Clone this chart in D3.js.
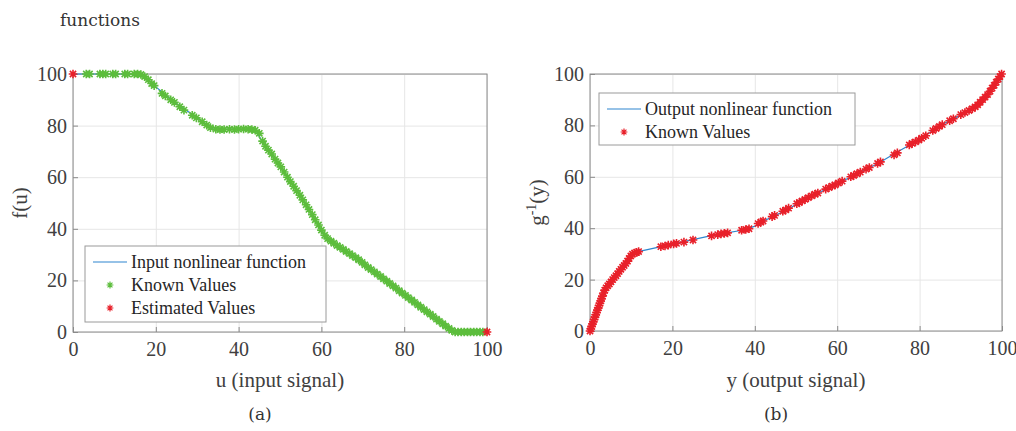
<!DOCTYPE html>
<html>
<head>
<meta charset="utf-8">
<script src="https://cdn.jsdelivr.net/npm/d3@7"></script>
<style>
  body { margin: 0; background: #fff; }
  svg { display: block; }
</style>
</head>
<body>
<script>
// axis ticks
var ticks = [0, 20, 40, 60, 80, 100]

// (a) input nonlinear function, knots of the line
var inLineU = [0, 15, 17, 20, 25, 30, 34, 44, 46, 50, 55, 61, 65, 70, 75, 80, 85, 90, 92, 100]
var inLineF = [100, 100, 99, 95, 88.5, 83, 78.5, 78.6, 73, 64, 53, 36.5, 32, 26.5, 20.5, 14.5, 8, 2, 0, 0]

// (a) known values
var knownU = [3.2, 4.0, 6.5, 7.2, 7.9, 9.6, 10.3, 12.5, 13.2, 14.8, 15.6, 16.4,
  17.3, 18.2, 19.0, 19.6, 21.5, 22.3, 23.6, 24.5, 25.8, 26.8, 28.8, 29.8, 31.2, 32.3, 33.2,
  34.5, 35.5, 36.5, 37.8, 39.0, 40.0, 41.2, 42.3, 43.2, 44.0,
  45.0, 45.8, 46.5, 47.2, 48.0, 48.8, 49.5, 50.2, 51.0, 51.8, 52.5, 53.3, 54.0, 54.8, 55.5,
  56.3, 57.0, 57.8, 58.5, 59.3, 60.0, 60.8, 61.5, 62.3, 63.0, 63.8, 64.5, 65.3, 66.0, 66.8,
  67.5, 68.3, 69.0, 69.8, 70.5, 71.3, 72.0, 72.8, 73.5, 74.3, 75.0, 75.8, 76.5, 77.3, 78.0,
  78.8, 79.5, 80.3, 81.0, 81.8, 82.5, 83.3, 84.0, 84.8, 85.5, 86.3, 87.0, 87.8, 88.5, 89.3,
  90.0, 90.8, 91.5, 92.3, 93.0, 93.8, 94.5, 95.3, 96.0, 96.8, 97.5, 98.3, 99.0]
var knownF = [100, 100, 100, 100, 100, 100, 100, 100, 100, 100, 100, 99.8,
  99, 97.8, 96.3, 95.5, 92.5, 91.5, 90, 89, 87.3, 86, 84, 83, 81.5, 80.2, 79.2,
  78.6, 78.5, 78.5, 78.6, 78.5, 78.6, 78.7, 78.6, 78.5, 78.2,
  77, 74, 72, 70.5, 69, 67, 65.5, 64, 62, 60, 58.3, 56.5, 54.8, 53, 51.2,
  49.3, 47.5, 45.5, 43.5, 41.5, 39.5, 37.5, 36.2, 35.2, 34.4, 33.5, 32.8, 32, 31.2, 30.4,
  29.6, 28.8, 28, 27, 26, 25, 24.2, 23.3, 22.4, 21.5, 20.6, 19.7, 18.8, 17.9, 17,
  16, 15.1, 14.2, 13.3, 12.4, 11.5, 10.5, 9.6, 8.7, 7.8, 6.9, 6, 5, 4.1, 3.2,
  2.3, 1.4, 0.6, 0, 0, 0, 0, 0, 0, 0, 0, 0, 0]

// (a) estimated values
var estU = [0, 100]
var estF = [100, 0]

// (b) output nonlinear function, knots of the line
var outLineY = [0, 1, 2, 3, 4, 5, 6, 7, 8, 9, 10, 12, 20, 30, 38, 40, 42, 45, 48, 51, 55, 60, 65, 70, 75, 80, 85, 90, 94, 96, 98, 100]
var outLineG = [0, 4.5, 9, 13.5, 17, 19, 21, 23, 25, 27, 29.5, 31, 33.8, 37.3, 39.5, 40.8, 42.7, 45, 47.3, 50.3, 53.4, 57.3, 61.3, 65.3, 70, 74.5, 80, 84, 87.5, 90.5, 95, 100]

// (b) known values
var knownY = [0, 0.2, 0.4, 0.6, 0.8, 1.0, 1.2, 1.4, 1.6, 1.8, 2.0, 2.2, 2.4, 2.6, 2.8, 3.0, 3.3, 3.6, 3.9,
  4.3, 4.7, 5.1, 5.5, 5.9, 6.3, 6.7, 7.1, 7.5, 7.9, 8.3, 8.7, 9.1, 9.5, 9.9, 10.3, 10.8, 11.3, 11.8,
  17.2, 18.2, 19.0, 20.3, 21.0, 22.8, 25.0,
  29.5, 31.0, 31.8, 32.6, 33.4, 36.8, 37.8, 38.6, 40.8, 41.5, 42.0, 44.2, 44.8, 46.8, 47.5, 48.2,
  50.2, 50.8, 51.5, 52.2, 53.0, 53.8, 54.6, 55.3, 57.2, 58.0, 58.8, 59.5, 60.3, 61.2,
  63.3, 64.0, 64.8, 65.6, 67.0, 67.8, 69.8, 70.5, 73.8, 74.6,
  77.5, 78.2, 79.0, 79.8, 80.5, 81.5, 83.2, 84.0, 84.8, 85.5, 87.3, 88.2,
  90.0, 91.0, 92.0, 92.8, 93.5, 94.1, 94.7, 95.3, 95.9, 96.5, 97.1, 97.6, 98.1, 98.6, 99.1, 99.5, 99.9]
var knownG = [0, 0.8, 1.8, 2.7, 3.6, 4.5, 5.4, 6.3, 7.2, 8.1, 9, 9.9, 10.8, 11.7, 12.6, 13.5, 14.8, 15.9, 16.8,
  17.6, 18.3, 19.1, 20, 20.8, 21.5, 22.3, 23.2, 24, 24.8, 25.5, 26.3, 27.2, 28.2, 29.2, 29.9, 30.3, 30.6, 30.9,
  32.8, 33.1, 33.4, 33.9, 34.1, 34.6, 35.4,
  37, 37.5, 37.8, 38, 38.2, 39.2, 39.5, 39.8, 41.8, 42.4, 42.8, 44.5, 45, 46.6, 47.1, 47.8,
  49.5, 50, 50.6, 51.2, 51.9, 52.6, 53.2, 53.7, 55.2, 55.8, 56.4, 56.8, 57.6, 58.3,
  60, 60.5, 61.2, 61.8, 63, 63.6, 65.2, 65.8, 68.5, 69.3,
  72.4, 73, 73.6, 74.3, 75, 76, 78, 78.8, 79.6, 80.3, 81.8, 82.6,
  84.2, 85, 85.8, 86.5, 87.2, 88, 89, 90, 91, 92, 93.3, 94.5, 95.6, 96.8, 98, 99, 100]

var blue = '#2e86cf'
var green = '#5cbd3c'
var red = '#e8202a'
var serif = '"Liberation Serif", "Times New Roman", serif'

var svg = d3.select('body').append('svg')
  .attr('width', 1016)
  .attr('height', 431)

// caption fragment at the top
svg.append('text')
  .attr('x', 60).attr('y', 26)
  .style('font-family', '"DejaVu Serif", Georgia, serif')
  .style('font-size', '17px')
  .style('fill', '#333')
  .text('functions')

function star(r) {
  var d = r * 0.72
  return `M${-r},0L${r},0M0,${-r}L0,${r}M${-d},${-d}L${d},${d}M${-d},${d}L${d},${-d}`
}

function panel(opt) {
  var x = d3.scaleLinear().domain([0, 100]).range([opt.left, opt.right])
  var y = d3.scaleLinear().domain([0, 100]).range([opt.bottom, opt.top])
  var w = opt.right - opt.left
  var h = opt.bottom - opt.top
  var g = svg.append('g')

  // grid
  g.append('g')
    .attr('transform', `translate(0, ${opt.bottom})`)
    .call(d3.axisBottom(x).tickValues(ticks).tickSize(-h).tickFormat(''))
    .call(s => s.select('.domain').remove())
    .selectAll('line').attr('stroke', '#e6e6e6')
  g.append('g')
    .attr('transform', `translate(${opt.left}, 0)`)
    .call(d3.axisLeft(y).tickValues(ticks).tickSize(-w).tickFormat(''))
    .call(s => s.select('.domain').remove())
    .selectAll('line').attr('stroke', '#e6e6e6')

  // box
  g.append('rect')
    .attr('x', opt.left).attr('y', opt.top)
    .attr('width', w).attr('height', h)
    .attr('fill', 'none').attr('stroke', '#8a8a8a')

  // axes with inward ticks
  var ax = g.append('g')
    .attr('transform', `translate(0, ${opt.bottom})`)
    .call(d3.axisBottom(x).tickValues(ticks).tickSizeInner(-5).tickSizeOuter(0).tickPadding(10))
  var ay = g.append('g')
    .attr('transform', `translate(${opt.left}, 0)`)
    .call(d3.axisLeft(y).tickValues(ticks).tickSizeInner(-5).tickSizeOuter(0).tickPadding(6))
  ;[ax, ay].forEach(function (a) {
    a.select('.domain').remove()
    a.selectAll('line').attr('stroke', '#8a8a8a')
    a.selectAll('text')
      .style('font-family', serif)
      .style('font-size', '20px')
      .style('fill', '#404040')
  })
  ax.selectAll('text').attr('dy', '0.72em')

  // line
  var lineData = d3.zip(opt.lineX, opt.lineY)
  g.append('path')
    .datum(lineData)
    .attr('fill', 'none')
    .attr('stroke', blue)
    .attr('stroke-width', 1.2)
    .attr('d', d3.line().x(d => x(d[0])).y(d => y(d[1])))

  // markers
  opt.marks.forEach(function (m) {
    g.append('g').selectAll('path')
      .data(d3.zip(m.x, m.y))
      .enter().append('path')
      .attr('transform', d => `translate(${x(d[0])}, ${y(d[1])})`)
      .attr('d', star(4.3))
      .attr('stroke', m.color)
      .attr('stroke-width', 1.6)
      .attr('fill', 'none')
  })

  // axis labels
  g.append('text')
    .attr('x', (opt.left + opt.right) / 2).attr('y', 387)
    .attr('text-anchor', 'middle')
    .style('font-family', serif).style('font-size', '21px').style('fill', '#404040')
    .text(opt.xLabel)
  var yl = g.append('text')
    .attr('transform', `translate(${opt.left - 46}, ${(opt.top + opt.bottom) / 2}) rotate(-90)`)
    .attr('text-anchor', 'middle')
    .style('font-family', serif).style('font-size', '21px').style('fill', '#404040')
  opt.yLabel(yl)

  // caption
  g.append('text')
    .attr('x', (opt.left + opt.right) / 2 - 20).attr('y', 420)
    .attr('text-anchor', 'middle')
    .style('font-family', '"DejaVu Serif", Georgia, serif')
    .style('font-size', '17px').style('fill', '#333')
    .text(opt.caption)

  // legend
  var L = opt.legend
  var lg = g.append('g')
  lg.append('rect')
    .attr('x', L.x).attr('y', L.y)
    .attr('width', L.w).attr('height', L.h)
    .attr('fill', '#fff').attr('stroke', '#9a9a9a')
  L.items.forEach(function (it, i) {
    var cy = L.y + 16 + i * 23
    if (it.type === 'line') {
      lg.append('line')
        .attr('x1', L.x + 8).attr('x2', L.x + 42)
        .attr('y1', cy).attr('y2', cy)
        .attr('stroke', blue).attr('stroke-width', 1.2)
    } else {
      lg.append('path')
        .attr('transform', `translate(${L.x + 25}, ${cy})`)
        .attr('d', star(3.4))
        .attr('stroke', it.color).attr('stroke-width', 1.2).attr('fill', 'none')
    }
    lg.append('text')
      .attr('x', L.x + 46).attr('y', cy)
      .attr('dy', '0.35em')
      .style('font-family', serif).style('font-size', '18px').style('fill', '#262626')
      .text(it.label)
  })
}

panel({
  left: 73, right: 487, top: 74, bottom: 332,
  lineX: inLineU, lineY: inLineF,
  marks: [{x: knownU, y: knownF, color: green}, {x: estU, y: estF, color: red}],
  xLabel: 'u (input signal)',
  yLabel: t => t.text('f(u)'),
  caption: '(a)',
  legend: {x: 85, y: 246, w: 241, h: 76, items: [
    {type: 'line', label: 'Input nonlinear function'},
    {type: 'star', color: green, label: 'Known Values'},
    {type: 'star', color: red, label: 'Estimated Values'}
  ]}
})

panel({
  left: 590, right: 1002, top: 74, bottom: 331,
  lineX: outLineY, lineY: outLineG,
  marks: [{x: knownY, y: knownG, color: red}],
  xLabel: 'y (output signal)',
  yLabel: function (t) {
    t.append('tspan').text('g')
    t.append('tspan').attr('dy', -8).style('font-size', '14px').text('-1')
    t.append('tspan').attr('dy', 8).text('(y)')
  },
  caption: '(b)',
  legend: {x: 599, y: 93, w: 256, h: 52, items: [
    {type: 'line', label: 'Output nonlinear function'},
    {type: 'star', color: red, label: 'Known Values'}
  ]}
})
</script>
</body>
</html>
